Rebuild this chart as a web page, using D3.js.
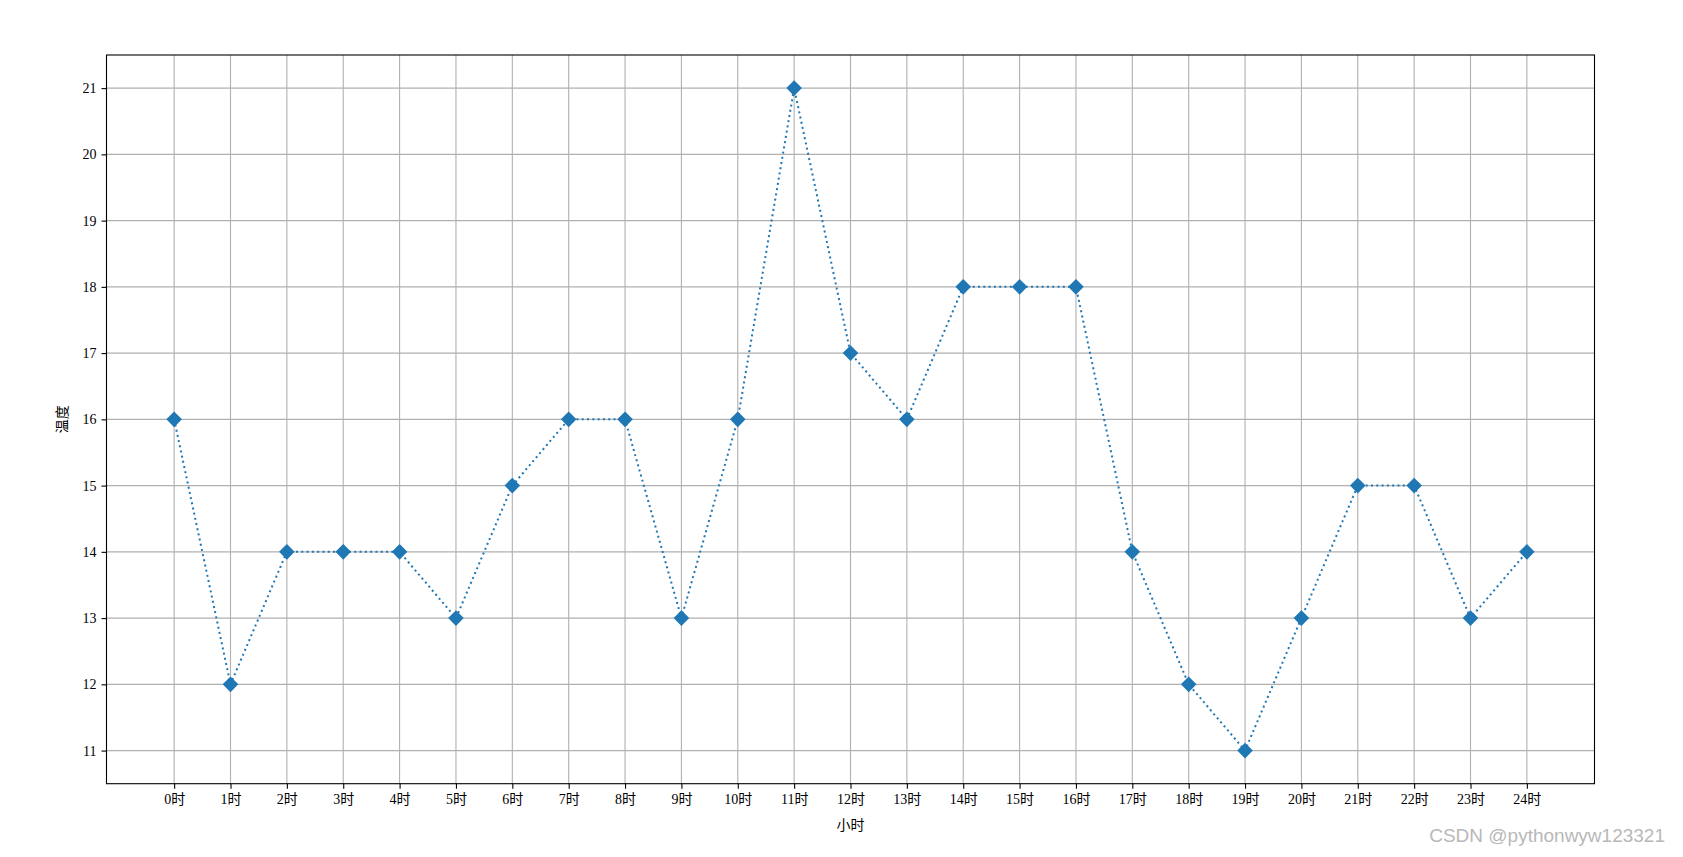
<!DOCTYPE html>
<html><head><meta charset="utf-8">
<script src="https://cdn.jsdelivr.net/npm/d3@7"></script>
<style>
html,body{margin:0;padding:0;background:#fff;}
svg text{font-family:"Liberation Serif","Noto Sans CJK SC",serif;}
</style></head>
<body>
<svg id="chart" width="1683" height="857"></svg>
<script>
const hours = ["0时","1时","2时","3时","4时","5时","6时","7时","8时","9时","10时","11时","12时","13时","14时","15时","16时","17时","18时","19时","20时","21时","22时","23时","24时"];
const temps = [16,12,14,14,14,13,15,16,16,13,16,21,17,16,18,18,18,14,12,11,13,15,15,13,14];
const yTicks = [11,12,13,14,15,16,17,18,19,20,21];
const xLabel = "小时";
const yLabel = "温度";
const watermark = "CSDN @pythonwyw123321";

const svg = d3.select("#chart");
const L = 106.5, R = 1594.5, T = 55, B = 783.7;
const x = d3.scaleLinear().domain([-1.2, 25.2]).range([L, R]);
const y = d3.scaleLinear().domain([10.5, 21.5]).range([B, T]);
const idx = d3.range(hours.length);

// grid
const g = svg.append("g");
g.selectAll(".vg").data(idx).enter().append("line")
  .attr("x1", d => x(d)).attr("x2", d => x(d)).attr("y1", T).attr("y2", B)
  .attr("stroke", "#b0b0b0").attr("stroke-width", 1.1);
g.selectAll(".hg").data(yTicks).enter().append("line")
  .attr("x1", L).attr("x2", R).attr("y1", d => y(d)).attr("y2", d => y(d))
  .attr("stroke", "#b0b0b0").attr("stroke-width", 1.1);

// axes
const xAxis = d3.axisBottom(x).tickValues(idx).tickFormat(i => hours[i]).tickSize(5).tickPadding(5).tickSizeOuter(0);
const yAxis = d3.axisLeft(y).tickValues(yTicks).tickFormat(d3.format("d")).tickSize(5).tickPadding(5).tickSizeOuter(0);
const xa = svg.append("g").attr("transform", `translate(0,${B})`).call(xAxis);
const ya = svg.append("g").attr("transform", `translate(${L},0)`).call(yAxis);
[xa, ya].forEach(a => {
  a.select(".domain").remove();
  a.selectAll(".tick line").attr("stroke", "#000").attr("stroke-width", 1.1);
  a.selectAll(".tick text").attr("fill", "#000").style("font-size", "14px");
});

// frame
svg.append("rect").attr("x", L).attr("y", T).attr("width", R - L).attr("height", B - T)
  .attr("fill", "none").attr("stroke", "#000").attr("stroke-width", 1.1);

// line
const line = d3.line().x((d, i) => x(i)).y(d => y(d));
svg.append("path").datum(temps).attr("d", line)
  .attr("fill", "none").attr("stroke", "#1f77b4").attr("stroke-width", 2)
  .attr("stroke-dasharray", "2,3.3");

// markers
const s = 7.8;
svg.selectAll(".mk").data(temps).enter().append("path")
  .attr("d", (d, i) => `M${x(i)},${y(d) - s}L${x(i) + s},${y(d)}L${x(i)},${y(d) + s}L${x(i) - s},${y(d)}Z`)
  .attr("fill", "#1f77b4");

// labels
svg.append("text").attr("x", (L + R) / 2).attr("y", 830).attr("text-anchor", "middle")
  .style("font-size", "14px").text(xLabel);
svg.append("text").attr("transform", `translate(67,${(T + B) / 2}) rotate(-90)`)
  .attr("text-anchor", "middle").style("font-size", "14px").text(yLabel);

svg.append("text").attr("x", 1665).attr("y", 842).attr("text-anchor", "end")
  .style("font-family", "'Liberation Sans', Arial, sans-serif").style("font-size", "19px")
  .attr("fill", "#b8b8b8").text(watermark);
</script>
</body></html>
